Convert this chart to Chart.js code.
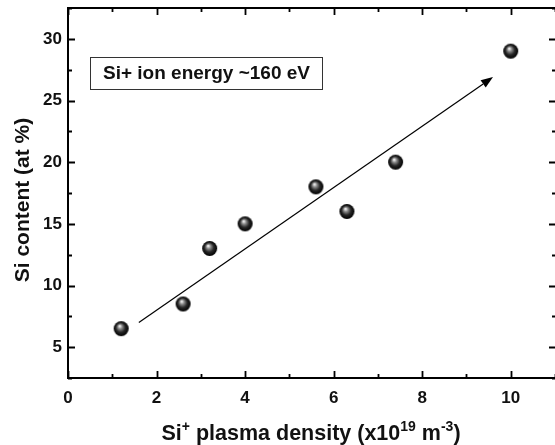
<!DOCTYPE html>
<html lang="en">
<head>
    <meta charset="UTF-8">
    <title>Si content vs Si+ plasma density</title>
    <script src="https://cdn.jsdelivr.net/npm/chart.js"></script>
    <style>
        body { margin: 0; background: #fff; }
        #wrap { width: 555px; height: 445px; }
    </style>
</head>
<body>
<div id="wrap"><canvas id="grafico" width="555" height="445"></canvas></div>
<script>
    // data
    const density = [1.2, 2.6, 3.2, 4.0, 5.6, 6.3, 7.4, 10.0];
    const siContent = [6.5, 8.5, 13, 15, 18, 16, 20, 29];
    const arrowFrom = [1.6, 7.0];
    const arrowTo = [9.6, 26.9];
    const xTicks = [0, 2, 4, 6, 8, 10];
    const yTicks = [5, 10, 15, 20, 25, 30];
    const boxLabel = 'Si+ ion energy ~160 eV';
    const yTitle = 'Si content (at %)';

    const FONT = '"Liberation Sans", Arial, Helvetica, sans-serif';

    // shaded sphere marker
    function makeBall(r) {
        const c = document.createElement('canvas');
        c.width = c.height = r * 2 + 2;
        const g = c.getContext('2d');
        const cx = r + 1, cy = r + 1;
        const grad = g.createRadialGradient(cx - r * 0.2, cy - r * 0.35, 0.5, cx, cy, r);
        grad.addColorStop(0, '#f0f0f0');
        grad.addColorStop(0.25, '#8a8a8a');
        grad.addColorStop(0.6, '#262626');
        grad.addColorStop(1, '#000');
        g.fillStyle = grad;
        g.beginPath();
        g.arc(cx, cy, r, 0, Math.PI * 2);
        g.fill();
        return c;
    }
    const ball = makeBall(7.5);

    // inward ticks, frame, arrow, label box and axis titles
    const decor = {
        id: 'decor',
        afterDatasetsDraw(chart) {
            const ctx = chart.ctx;
            const a = chart.chartArea;
            const xs = chart.scales.x, ys = chart.scales.y;
            const right = a.right + 1;
            ctx.save();
            ctx.strokeStyle = '#000';
            ctx.lineWidth = 2;
            // top line
            ctx.beginPath();
            ctx.moveTo(a.left, a.top);
            ctx.lineTo(right, a.top);
            ctx.stroke();

            ctx.lineWidth = 1.8;
            for (let v = 0; v <= 11; v++) {
                const len = v % 2 === 0 ? 7 : 4;
                const px = Math.round(xs.getPixelForValue(v)) + 0.5;
                ctx.beginPath();
                ctx.moveTo(px, a.bottom); ctx.lineTo(px, a.bottom - len);
                ctx.moveTo(px, a.top); ctx.lineTo(px, a.top + len);
                ctx.stroke();
            }
            for (let v = 2.5; v <= 32.5; v += 2.5) {
                const len = v % 5 === 0 ? 7 : 4;
                const py = Math.round(ys.getPixelForValue(v)) + 0.5;
                ctx.beginPath();
                ctx.moveTo(a.left, py); ctx.lineTo(a.left + len, py);
                ctx.moveTo(right, py); ctx.lineTo(right - len, py);
                ctx.stroke();
            }

            // arrow
            const x1 = xs.getPixelForValue(arrowFrom[0]), y1 = ys.getPixelForValue(arrowFrom[1]);
            const x2 = xs.getPixelForValue(arrowTo[0]), y2 = ys.getPixelForValue(arrowTo[1]);
            const ang = Math.atan2(y2 - y1, x2 - x1);
            const hl = 12, hw = 4.5;
            ctx.lineWidth = 1.2;
            ctx.beginPath();
            ctx.moveTo(x1, y1);
            ctx.lineTo(x2 - hl * Math.cos(ang), y2 - hl * Math.sin(ang));
            ctx.stroke();
            ctx.beginPath();
            ctx.moveTo(x2, y2);
            ctx.lineTo(x2 - hl * Math.cos(ang) + hw * Math.sin(ang), y2 - hl * Math.sin(ang) - hw * Math.cos(ang));
            ctx.lineTo(x2 - hl * Math.cos(ang) - hw * Math.sin(ang), y2 - hl * Math.sin(ang) + hw * Math.cos(ang));
            ctx.closePath();
            ctx.fillStyle = '#000';
            ctx.fill();

            // label box
            ctx.lineWidth = 1;
            ctx.strokeStyle = '#333';
            ctx.strokeRect(90.5, 57.5, 232, 32);
            ctx.font = 'bold 19px ' + FONT;
            ctx.textAlign = 'center';
            ctx.textBaseline = 'middle';
            ctx.fillStyle = '#111';
            ctx.fillText(boxLabel, 206.5, 74);

            // y axis title
            ctx.save();
            ctx.translate(23, 200);
            ctx.rotate(-Math.PI / 2);
            ctx.font = 'bold 21px ' + FONT;
            ctx.fillText(yTitle, 0, 0);
            ctx.restore();

            // x axis title with superscripts
            const parts = [
                ['Si', 21.5, 0], ['+', 14, -9], [' plasma density (x10', 21.5, 0],
                ['19', 14, -9], [' m', 21.5, 0], ['-3', 14, -9], [')', 21.5, 0]
            ];
            ctx.textAlign = 'left';
            ctx.textBaseline = 'alphabetic';
            let total = 0;
            parts.forEach(p => { ctx.font = 'bold ' + p[1] + 'px ' + FONT; total += ctx.measureText(p[0]).width; });
            let tx = 311 - total / 2;
            const base = 440;
            parts.forEach(p => {
                ctx.font = 'bold ' + p[1] + 'px ' + FONT;
                ctx.fillText(p[0], tx, base + p[2]);
                tx += ctx.measureText(p[0]).width;
            });
            ctx.restore();
        }
    };

    new Chart(document.getElementById('grafico'), {
        type: 'scatter',
        data: {
            datasets: [{
                data: density.map((d, i) => ({ x: d, y: siContent[i] })),
                pointStyle: ball,
                radius: 8,
                hoverRadius: 8
            }]
        },
        options: {
            responsive: false,
            animation: false,
            events: [],
            layout: { autoPadding: false, padding: { top: 8, left: 0, right: 0, bottom: 0 } },
            plugins: { legend: { display: false }, tooltip: { enabled: false } },
            scales: {
                x: {
                    type: 'linear',
                    min: 0, max: 11,
                    afterBuildTicks: s => { s.ticks = xTicks.map(v => ({ value: v })); },
                    afterFit: s => { s.height = 67; s.paddingLeft = 0; s.paddingRight = 0; },
                    grid: { display: false, drawTicks: false },
                    border: { display: true, color: '#000', width: 2 },
                    ticks: {
                        padding: 10,
                        color: '#111',
                        font: { family: FONT, size: 17, weight: 'bold' },
                        maxRotation: 0
                    },
                    title: { display: false }
                },
                y: {
                    type: 'linear',
                    min: 2.5, max: 32.5,
                    afterBuildTicks: s => { s.ticks = yTicks.map(v => ({ value: v })); },
                    afterFit: s => { s.width = 68; s.paddingTop = 0; s.paddingBottom = 0; },
                    grid: { display: false, drawTicks: false },
                    border: { display: true, color: '#000', width: 2 },
                    ticks: {
                        padding: 6,
                        color: '#111',
                        font: { family: FONT, size: 17, weight: 'bold' }
                    },
                    title: { display: false }
                }
            }
        },
        plugins: [decor]
    });
</script>
</body>
</html>
